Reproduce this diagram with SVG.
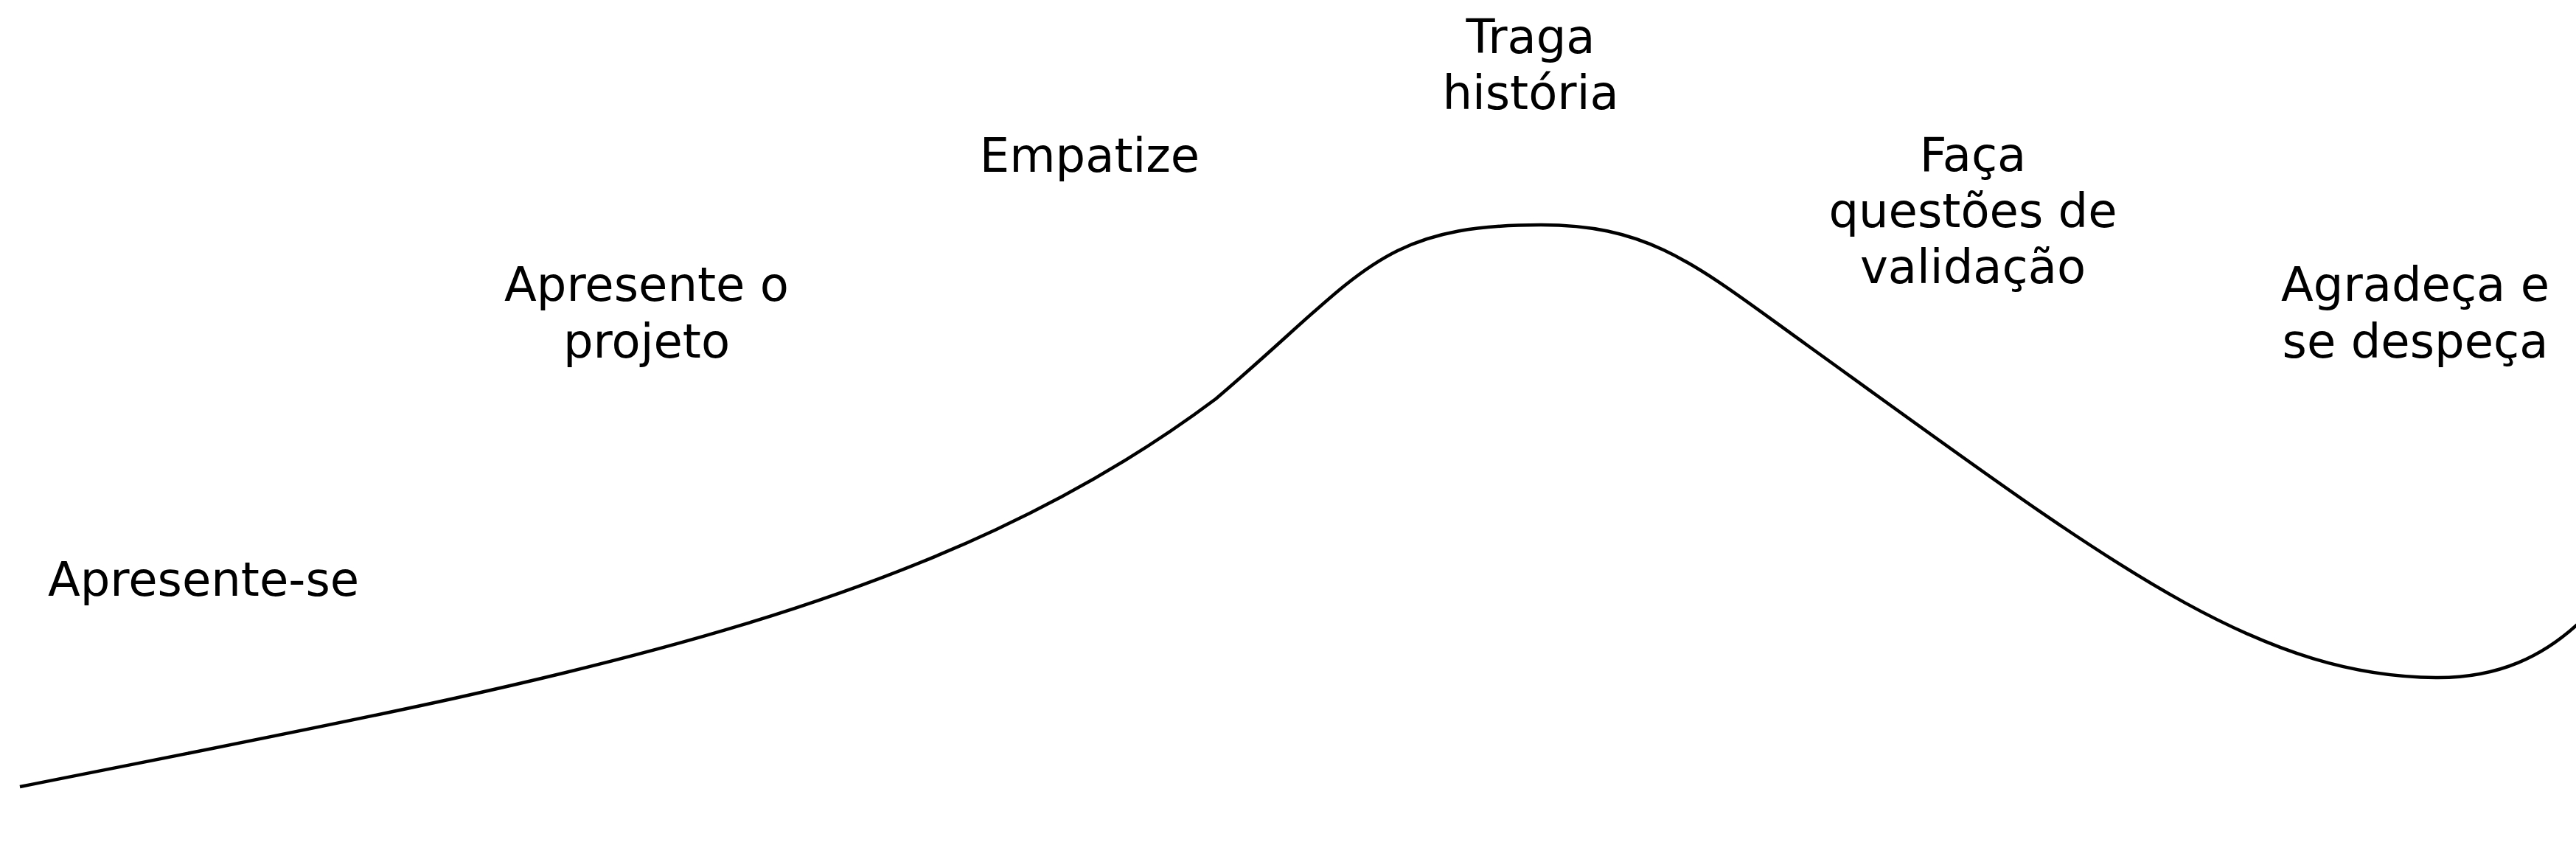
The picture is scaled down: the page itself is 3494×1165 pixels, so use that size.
<svg xmlns="http://www.w3.org/2000/svg" width="3494" height="1165" viewBox="0 0 3494 1165">
<style>
.lbl{font-family:"DejaVu Sans","Liberation Sans",sans-serif;font-size:64px;fill:#000;text-anchor:middle}
.curve{fill:none;stroke:#000;stroke-width:4.5;stroke-linecap:butt;stroke-linejoin:round}
</style>
<rect width="3494" height="1165" fill="#fff"/>
<g id="connectors">
<path class="curve" d="M27,1067 C727,927 1249,841 1649,541 C1849,371 1870,305 2090,305 C2240,305 2301,360 2451,468 C2851,756 3057,919 3307,919 C3390,919 3450,890 3500,843"/>
</g>
<g id="n1"><text class="lbl" x="276" y="808">Apresente-se</text></g>
<g id="n2"><text class="lbl" x="877" y="408">Apresente o</text><text class="lbl" x="877" y="485">projeto</text></g>
<g id="n3"><text class="lbl" x="1478" y="233">Empatize</text></g>
<g id="n4"><text class="lbl" x="2076" y="72">Traga</text><text class="lbl" x="2076" y="148">história</text></g>
<g id="n5"><text class="lbl" x="2676" y="232">Faça</text><text class="lbl" x="2676" y="308">questões de</text><text class="lbl" x="2676" y="384">validação</text></g>
<g id="n6"><text class="lbl" x="3276" y="408">Agradeça e</text><text class="lbl" x="3276" y="485">se despeça</text></g>
</svg>
